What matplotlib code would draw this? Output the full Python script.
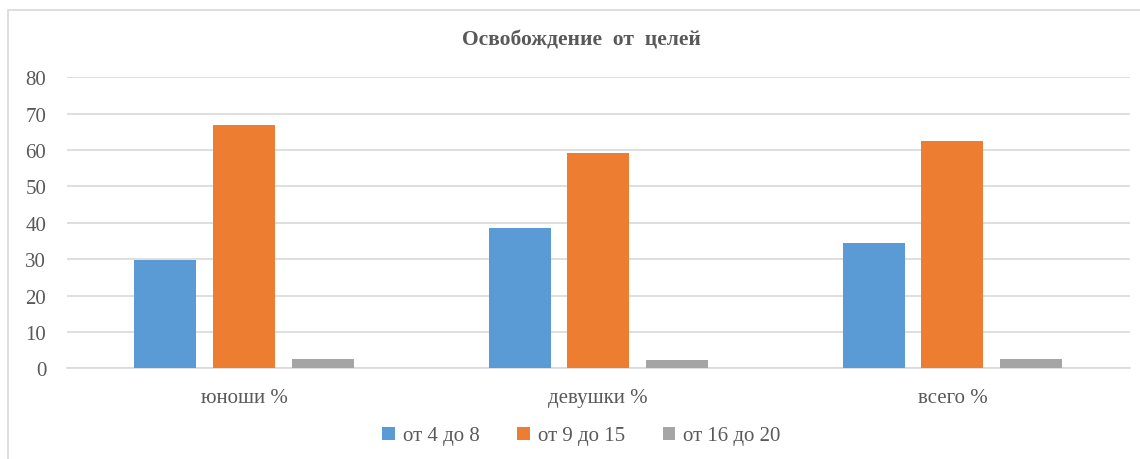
import numpy as np
import matplotlib
matplotlib.use('Agg')
import matplotlib.pyplot as plt
from matplotlib.patches import Rectangle

# данные
categories = ['юноши %', 'девушки %', 'всего %']
series_names = ['от 4 до 8', 'от 9 до 15', 'от 16 до 20']
vals_4_8 = [29.8, 38.5, 34.5]
vals_9_15 = [66.9, 59.1, 62.5]
vals_16_20 = [2.6, 2.2, 2.6]
colors = ['#5B9BD5', '#ED7D31', '#A5A5A5']

plt.rcParams['font.family'] = ['Liberation Serif', 'DejaVu Serif']
text_color = '#595959'

fig = plt.figure(figsize=(11.4, 4.6), dpi=100)
ax = fig.add_axes([0.0588, 0.197, 0.932, 0.633])

x = np.arange(len(categories))
width = 0.175
step = 0.222
all_vals = [vals_4_8, vals_9_15, vals_16_20]
for i, (name, vals) in enumerate(zip(series_names, all_vals)):
    ax.bar(x + (i - 1) * step, vals, width, color=colors[i], label=name, zorder=3)

ax.set_xlim(-0.5, 2.5)
ax.set_ylim(0, 80)
ax.set_yticks(range(0, 81, 10))
ax.yaxis.grid(True, color='#D9D9D9', linewidth=1.2, zorder=0)
ax.set_xticks(x)
ax.set_xticklabels(categories)
ax.tick_params(axis='both', length=0, labelsize=15, colors=text_color)
ax.tick_params(axis='x', pad=14)
ax.tick_params(axis='y', pad=15)
for s in ['top', 'right', 'left']:
    ax.spines[s].set_visible(False)
ax.spines['bottom'].set_color('#D9D9D9')
ax.spines['bottom'].set_linewidth(1.2)

fig.text(0.51, 0.913, 'Освобождение  от  целей', ha='center', va='center',
         fontsize=15.5, fontweight='bold', color=text_color)

fig.legend(loc='center', bbox_to_anchor=(0.51, 0.05), ncol=3, frameon=False,
           fontsize=15, labelcolor=text_color, handlelength=0.6, handleheight=0.6,
           handletextpad=0.4, columnspacing=1.8)

# рамка вокруг диаграммы (правый и нижний край за пределами картинки)
fig.patches.append(Rectangle((0.007, -0.05), 1.05, 1.026, transform=fig.transFigure,
                             fill=False, edgecolor='#D9D9D9', linewidth=1.2))

fig.savefig('out.png', dpi=100)
